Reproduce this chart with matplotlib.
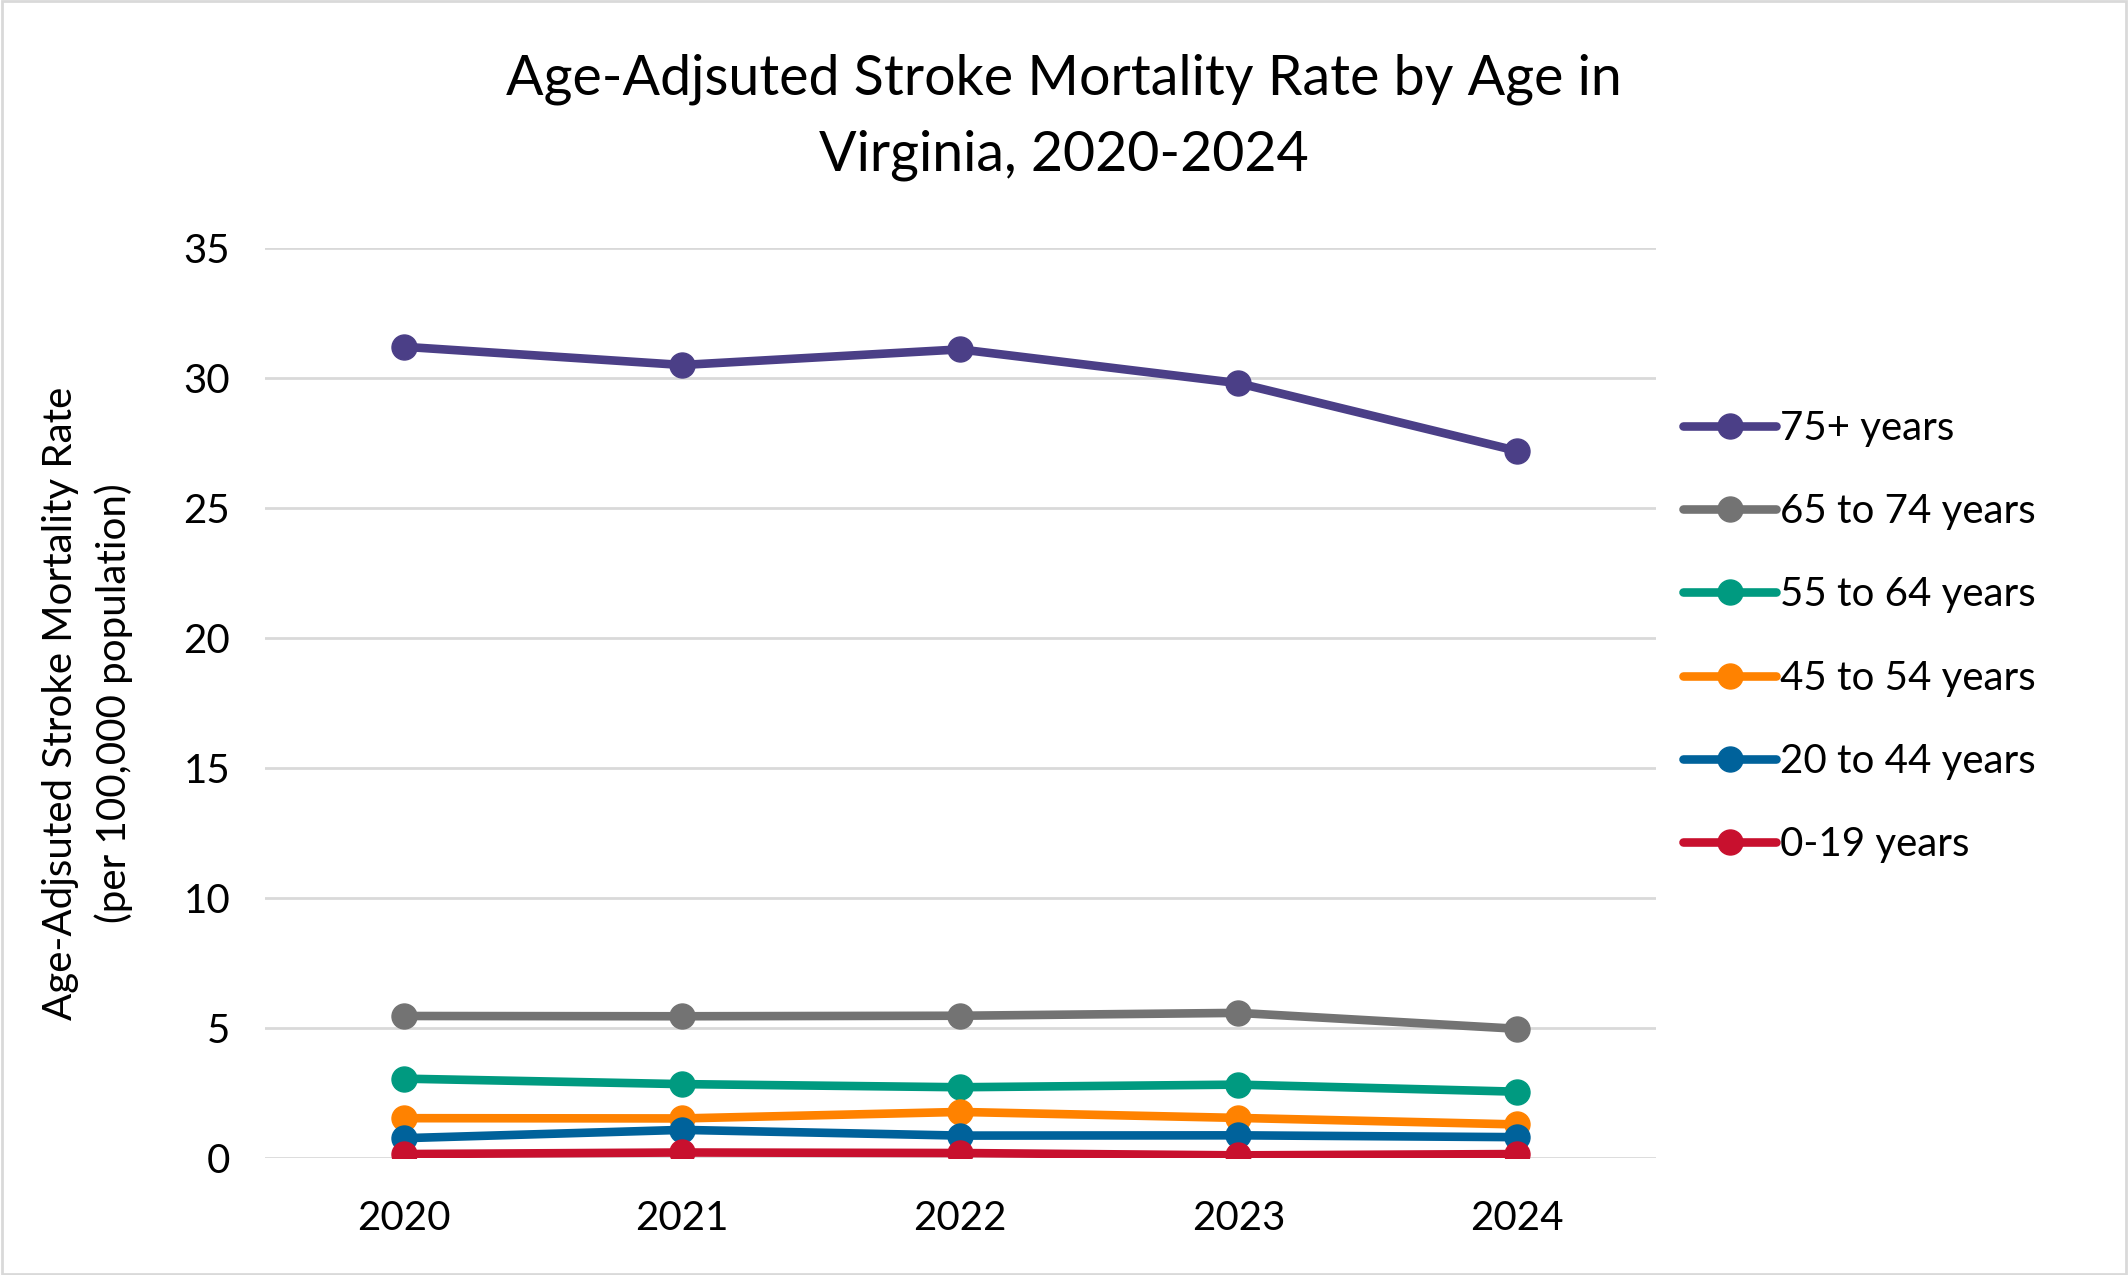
import matplotlib
matplotlib.use("Agg")
from matplotlib import pyplot as plt
from matplotlib.patches import Rectangle

years = ['2020', '2021', '2022', '2023', '2024']
groups = ['75+ years', '65 to 74 years', '55 to 64 years', '45 to 54 years', '20 to 44 years', '0-19 years']
age_75_plus = [31.2, 30.5, 31.1, 29.8, 27.2]
age_65_74 = [5.46, 5.45, 5.47, 5.58, 4.97]
age_55_64 = [3.05, 2.84, 2.72, 2.82, 2.55]
age_45_54 = [1.53, 1.52, 1.77, 1.54, 1.29]
age_20_44 = [0.76, 1.08, 0.86, 0.87, 0.80]
age_0_19 = [0.15, 0.21, 0.19, 0.10, 0.15]
colors = ['#4B3F87', '#737373', '#009A80', '#FF8200', '#00629B', '#C8102E']

series = [age_75_plus, age_65_74, age_55_64, age_45_54, age_20_44, age_0_19]

plt.rcParams['font.family'] = ['Lato', 'DejaVu Sans']

fig = plt.figure(figsize=(21.28, 12.75), dpi=100)
ax = fig.add_axes([0.1245, 0.0918, 0.6535, 0.7137])

for vals, name, c in zip(series, groups, colors):
    ax.plot(years, vals, color=c, lw=6.2, marker='o', markersize=18, label=name,
            solid_capstyle='round')

ax.set_ylim(0, 35)
ax.set_yticks(range(0, 36, 5))
ax.set_xlim(-0.5, 4.5)
ax.grid(axis='y', color='#d9d9d9', lw=2)
ax.set_axisbelow(True)
for s in ax.spines.values():
    s.set_visible(False)
ax.tick_params(length=0, labelsize=29, colors='black')
ax.tick_params(axis='y', pad=25)
ax.tick_params(axis='x', pad=30)

ax.set_ylabel('Age-Adjsuted Stroke Mortality Rate\n(per 100,000 population)', fontsize=29,
              labelpad=36, linespacing=1.5)

fig.suptitle('Age-Adjsuted Stroke Mortality Rate by Age in\nVirginia, 2020-2024', x=0.5, y=0.958,
             fontsize=40, linespacing=1.6)

leg = ax.legend(loc='upper left', bbox_to_anchor=(0.994, 0.862), frameon=False, fontsize=29,
                handlelength=2.3, handletextpad=0.1, labelspacing=1.15)

fig.patches.append(Rectangle((0.001, 0.001), 0.998, 0.998, transform=fig.transFigure,
                             fill=False, edgecolor='#d9d9d9', lw=2))

fig.savefig('out.png', dpi=100)
